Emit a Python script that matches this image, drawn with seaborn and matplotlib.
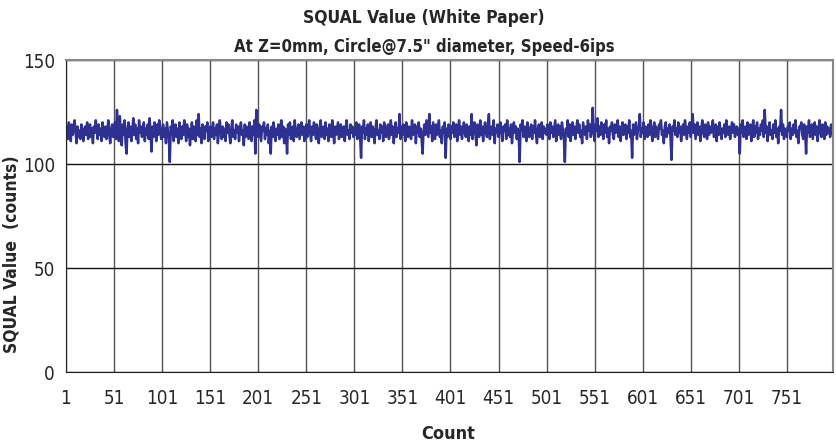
import matplotlib
matplotlib.use("Agg")
import matplotlib.pyplot as plt
import seaborn as sns
import pandas as pd
import numpy as np

squal = [
113,118,112,120,116,111,119,114,117,121, 115,110,118,113,116,112,119,117,111,115, 118,114,120,112,116,119,113,117,110,118, 115,121,116,112,119,114,117,111,120,115, 113,118,112,116,121,114,110,117,119,113,
116,120,112,126,118,111,123,115,109,119, 114,121,110,105,117,120,113,118,111,116, 122,114,119,112,117,110,121,115,118,113, 116,120,111,117,114,119,112,122,115,106, 118,113,120,116,111,119,114,121,117,112,
115,119,113,117,110,120,116,112,101,118, 114,121,111,116,119,113,117,110,120,115, 112,118,114,121,116,111,119,113,117,109, 115,120,112,118,116,111,121,114,124,113, 117,110,119,115,112,118,116,120,111,114,
118,113,116,120,112,117,114,119,110,115, 121,116,112,118,113,117,111,120,115,119, 114,110,117,121,113,116,112,119,115,118, 111,117,120,114,116,109,119,113,118,115, 112,120,116,111,118,114,121,105,126,117,
113,119,115,111,118,116,120,112,117,114, 119,110,116,105,118,113,120,115,111,117, 114,119,112,116,121,113,118,110,117,115, 105,119,114,120,112,116,118,111,121,115, 113,117,119,112,116,120,114,118,111,116,
119,113,117,121,115,111,118,114,120,116, 112,119,115,110,117,121,113,116,118,112, 120,114,117,111,119,115,113,121,116,110, 118,114,117,120,112,116,119,113,115,118, 111,117,121,114,116,112,119,115,118,113,
117,114,120,112,116,119,113,103,118,115, 121,112,117,114,119,111,116,120,113,118, 115,110,117,121,114,116,112,119,115,118, 111,120,116,113,117,119,112,115,121,114, 118,110,116,120,113,117,115,124,112,118,
114,119,116,111,120,115,113,118,117,112, 121,114,116,119,110,118,115,120,113,117, 112,105,116,119,114,121,117,113,124,115, 118,111,120,116,112,119,114,117,121,113, 116,110,118,115,120,103,117,113,119,116,
112,118,115,120,113,117,119,111,116,121, 114,118,112,117,120,115,113,119,116,111, 118,114,124,112,117,120,115,109,119,116, 113,121,114,118,111,117,120,115,113,119, 124,112,116,118,114,121,110,117,115,119,
113,117,120,115,111,118,116,119,112,121, 114,117,113,119,110,116,120,115,118,112, 117,114,101,119,116,121,113,118,115,111, 120,116,113,117,119,112,118,115,121,114, 110,117,119,113,116,120,112,118,115,117,
114,119,116,112,120,115,118,113,117,121, 111,116,119,114,118,112,120,116,113,101, 117,115,121,113,119,111,116,120,114,118, 112,117,121,115,119,113,116,110,120,117, 114,118,112,121,116,119,113,117,127,115,
111,119,116,122,113,118,114,120,117,112, 119,115,121,113,117,110,118,116,120,114, 112,119,115,117,121,113,118,111,116,120, 114,117,119,112,118,115,121,113,116,103, 119,114,117,120,112,116,118,124,113,117,
115,120,112,118,116,113,119,114,121,117, 111,116,120,113,118,115,112,119,117,121, 114,116,110,118,120,113,117,115,119,112, 102,118,116,121,114,117,113,120,115,118, 111,116,119,114,121,117,112,118,115,120,
113,117,124,115,119,112,116,120,114,118, 111,117,121,115,113,119,116,112,120,114, 118,115,117,121,113,116,119,111,118,114, 120,116,112,117,115,119,113,121,116,114, 118,112,117,120,115,119,113,116,118,114,
117,105,119,115,121,113,116,118,112,120, 114,117,119,111,116,121,113,118,115,120, 112,117,114,119,116,121,113,126,115,118, 111,117,120,114,116,112,119,115,121,113, 117,110,118,116,126,114,119,112,117,115,
113,118,116,120,112,117,114,119,115,121, 113,116,110,118,117,120,114,112,119,116, 105,118,115,121,113,117,119,112,116,120, 114,118,111,117,121,115,113,119,116,112, 120,114,118,115,117,113,119,116,114,
]
count = list(range(1, len(squal) + 1))
xticks = list(range(1, 752, 50))
yticks = [0, 50, 100, 150]

title1 = "SQUAL Value (White Paper)"
title2 = 'At Z=0mm, Circle@7.5" diameter, Speed-6ips'
xlabel = "Count"
ylabel = "SQUAL Value  (counts)"

sns.set_style("white")
plt.rcParams['font.family'] = ['DejaVu Sans']
plt.rcParams['font.stretch'] = 'condensed'

df = pd.DataFrame({"Count": count, "SQUAL": squal})

fig = plt.figure(figsize=(8.36, 4.45), dpi=100)
ax = fig.add_axes([66/836, 1 - 372/445, (833-66)/836, (372-60)/445])

sns.lineplot(data=df, x="Count", y="SQUAL", ax=ax, color="#2e3192", linewidth=1.8)

ax.set_xlim(1, len(squal))
ax.set_ylim(0, 150)
ax.set_xticks(xticks)
ax.set_yticks(yticks)
ax.tick_params(axis='both', labelsize=13.5, length=8, width=1, color='#222222', direction='out')
ax.tick_params(axis='x', pad=4)
ax.tick_params(axis='y', pad=2, length=6)
ax.grid(axis='x', color='#555555', linewidth=1)
ax.grid(axis='y', color='#111111', linewidth=1)
ax.set_axisbelow(True)
for side in ['top', 'right']:
    ax.spines[side].set_color('#888888')
    ax.spines[side].set_linewidth(1.5)
ax.spines['left'].set_color('#222222')
ax.spines['bottom'].set_color('#222222')

ax.set_xlabel("")
ax.set_ylabel("")
fig.text(448/836, 1 - 434/445, xlabel, ha='center', va='center', fontsize=13, fontweight='bold')
fig.text(12/836, 1 - 254/445, ylabel, ha='center', va='center', rotation=90, fontsize=12.5, fontweight='bold')

fig.text(424/836, 1 - 18/445, title1, ha='center', va='center', fontsize=12.5, fontweight='bold')
fig.text(424/836, 1 - 47/445, title2, ha='center', va='center', fontsize=12, fontweight='bold')

fig.savefig("out.png", dpi=100)
